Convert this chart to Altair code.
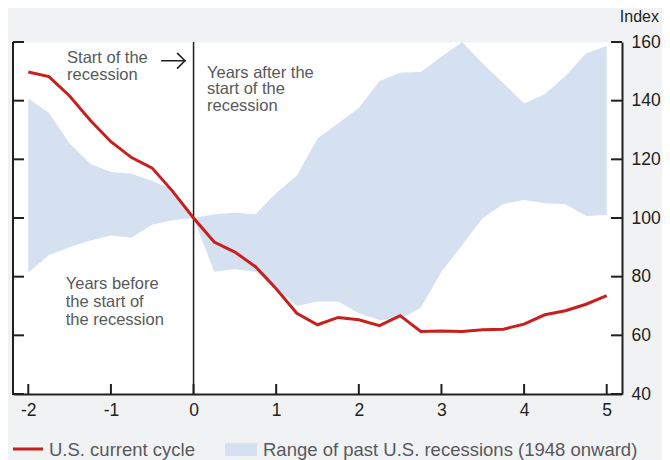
import altair as alt
import pandas as pd

# ---- data ----
quarters = [-2, -1.75, -1.5, -1.25, -1, -0.75, -0.5, -0.25, 0, 0.25, 0.5, 0.75, 1, 1.25, 1.5,
            1.75, 2, 2.25, 2.5, 2.75, 3, 3.25, 3.5, 3.75, 4, 4.25, 4.5, 4.75, 5]
current_cycle = [149.8, 148.2, 141.6, 133.3, 126.0, 120.6, 117.0, 109.0, 100.0, 91.8, 88.4, 83.4,
                 75.9, 67.5, 63.6, 66.1, 65.3, 63.3, 66.7, 61.3, 61.5, 61.3, 61.9, 62.1, 63.8,
                 67.0, 68.4, 70.6, 73.5]
range_high = [140.7, 135.8, 125.4, 118.5, 115.7, 115.1, 112.6, 109.6, 100.0, 101.3, 101.8, 101.3,
              108.5, 114.5, 127.1, 132.3, 137.5, 146.7, 149.5, 149.8, 155.0, 160.0, 152.7, 145.9,
              139.0, 142.2, 148.4, 156.1, 158.6]
range_low = [81.3, 87.4, 90.0, 92.3, 94.0, 93.3, 97.8, 99.2, 100.0, 81.7, 82.5, 81.7, 76.3, 70.0,
             71.5, 71.5, 67.5, 65.2, 65.5, 69.5, 81.7, 90.8, 100.0, 104.8, 106.1, 105.0, 104.7,
             100.7, 101.0]
x_ticks = [-2, -1, 0, 1, 2, 3, 4, 5]
y_ticks = [40, 60, 80, 100, 120, 140, 160]
legend_labels = ["U.S. current cycle", "Range of past U.S. recessions (1948 onward)"]

W, H = 609, 352
FONT = "Liberation Sans, Arial, Helvetica, sans-serif"
INK = "#231f20"
GREY = "#58595b"
RED = "#c8201e"
BAND = "#d5e0f1"
BG = "#f1f2f4"

df = pd.DataFrame({"q": quarters, "cur": current_cycle, "hi": range_high, "lo": range_low})
xt = pd.DataFrame({"v": x_ticks})
yt = pd.DataFrame({"v": y_ticks})

xscale = alt.Scale(domain=[-2.185, 5.185], nice=False, zero=False)
yscale = alt.Scale(domain=[40, 160], nice=False, zero=False)
xaxis = alt.Axis(title=None, values=x_ticks, ticks=False, grid=False,
                 domainColor=INK, domainWidth=2, labelFont=FONT, labelFontSize=17.5,
                 labelColor=INK, labelPadding=7, labelExpr="'' + datum.value")
yaxis = alt.Axis(title=None, orient="right", values=y_ticks, ticks=False, grid=False,
                 domainColor=INK, domainWidth=2, labelFont=FONT, labelFontSize=17.5,
                 labelColor=INK, labelPadding=9)


def X(f):
    return alt.X(f, scale=xscale, axis=xaxis)


def Y(f):
    return alt.Y(f, scale=yscale, axis=yaxis)


base = alt.Chart(df)

band = base.mark_area(color=BAND, opacity=1).encode(x=X("q:Q"), y=Y("lo:Q"), y2="hi:Q")

zero_line = alt.Chart(pd.DataFrame({"x": [0]})).mark_rule(color=INK, strokeWidth=1.5).encode(
    x=X("x:Q"), y=alt.value(0), y2=alt.value(H))

line = base.mark_line(color=RED, strokeWidth=3).encode(x=X("q:Q"), y=Y("cur:Q"))

left_axis = alt.Chart(pd.DataFrame({"a": [0]})).mark_rule(color=INK, strokeWidth=2).encode(
    x=alt.value(0), y=alt.value(0), y2=alt.value(H + 1))

left_ticks = alt.Chart(yt).mark_rule(color=INK, strokeWidth=2).encode(
    y=Y("v:Q"), x=alt.value(0), x2=alt.value(11))
right_ticks = alt.Chart(yt).mark_rule(color=INK, strokeWidth=2).encode(
    y=Y("v:Q"), x=alt.value(W - 11), x2=alt.value(W))
bottom_ticks = alt.Chart(xt).mark_rule(color=INK, strokeWidth=2).encode(
    x=X("v:Q"), y=alt.value(H), y2=alt.value(H - 10))

notes = pd.DataFrame({
    "x": [-1.531, 0.163],
    "y": [152.7, 147.8],
    "t": ["Start of the\nrecession", "Years after the\nstart of the\nrecession"],
})
note_text = alt.Chart(notes).mark_text(
    align="left", baseline="alphabetic", font=FONT, fontSize=16.5, color=GREY,
    lineBreak="\n", lineHeight=16.7).encode(x=X("x:Q"), y=Y("y:Q"), text="t:N")

note_before = alt.Chart(pd.DataFrame({"x": [-1.547], "y": [75.7],
                                      "t": ["Years before\nthe start of\nthe recession"]})).mark_text(
    align="left", baseline="alphabetic", font=FONT, fontSize=16.5, color=GREY,
    lineBreak="\n", lineHeight=18).encode(x=X("x:Q"), y=Y("y:Q"), text="t:N")

arrow = pd.DataFrame({
    "x": [-0.385, -0.194, -0.194],
    "x2": [-0.104, -0.104, -0.104],
    "y": [153.6, 156.1, 151.1],
    "y2": [153.6, 153.6, 153.6],
})
arrow_marks = alt.Chart(arrow).mark_rule(color=INK, strokeWidth=1.6, strokeCap="round").encode(
    x=X("x:Q"), x2="x2:Q", y=Y("y:Q"), y2="y2:Q")

index_label = alt.Chart(pd.DataFrame({"t": ["Index"]})).mark_text(
    align="right", baseline="alphabetic", font=FONT, fontSize=16, color=INK).encode(
    x=alt.value(646), y=alt.value(-20), text="t:N")

leg_line = alt.Chart(pd.DataFrame({"a": [0]})).mark_rule(color=RED, strokeWidth=3).encode(
    x=alt.value(0), x2=alt.value(30), y=alt.value(407))
leg_rect = alt.Chart(pd.DataFrame({"a": [0]})).mark_rect(color=BAND).encode(
    x=alt.value(212), x2=alt.value(244), y=alt.value(401), y2=alt.value(414))
leg_t1 = alt.Chart(pd.DataFrame({"t": [legend_labels[0]]})).mark_text(
    align="left", baseline="alphabetic", font=FONT, fontSize=18.5, color=GREY).encode(
    x=alt.value(36), y=alt.value(413.7), text="t:N")
leg_t2 = alt.Chart(pd.DataFrame({"t": [legend_labels[1]]})).mark_text(
    align="left", baseline="alphabetic", font=FONT, fontSize=18.5, color=GREY).encode(
    x=alt.value(250), y=alt.value(413.7), text="t:N")

chart = alt.layer(
    band, zero_line, line, left_axis, left_ticks, right_ticks, bottom_ticks,
    note_text, note_before, arrow_marks, index_label, leg_line, leg_rect, leg_t1, leg_t2,
).properties(
    width=W, height=H,
    autosize=alt.AutoSizeParams(type="none"),
    padding={"left": 5, "top": 34, "right": 40, "bottom": 66},
    background=BG,
).configure_view(fill="white", stroke="transparent")

chart.save("out.html", embed_options={"renderer": "svg", "actions": False})
